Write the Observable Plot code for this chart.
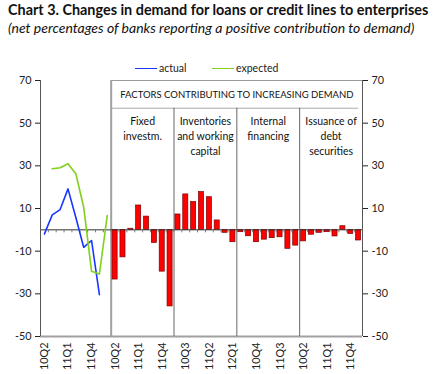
<!DOCTYPE html>
<html><head><meta charset="utf-8">
<script src="https://cdn.jsdelivr.net/npm/d3@7"></script>
<script src="https://cdn.jsdelivr.net/npm/@observablehq/plot@0.6"></script>
<style>
body{margin:0;background:#fff;font-family:Lato,sans-serif;color:#111}
#head{height:44px;position:relative;width:446px}
#t1{position:absolute;left:8px;top:1px;font-weight:bold;font-size:14.4px;white-space:nowrap}
#t2{position:absolute;left:8px;top:19px;font-style:italic;font-size:14px;white-space:nowrap}
#wrap{position:relative;width:446px;height:330px}
#legend{position:absolute;top:0;left:0;width:446px;height:40px;font-size:10.5px;color:#222}
.li{position:absolute;top:18px;display:flex;align-items:center;white-space:nowrap;line-height:13px}
.sw{display:inline-block;width:22px;height:0;border-top:1.6px solid;margin-right:2px}
</style></head><body>
<div id="head"><div id="t1"></div><div id="t2"></div></div>
<div id="wrap"><div id="legend"></div></div>
<script>
// ---- data ----
const titleText = "Chart 3. Changes in demand for loans or credit lines to enterprises";
const subtitleText = "(net percentages of banks reporting a positive contribution to demand)";
const seriesNames = ["actual", "expected"];
const seriesColors = ["#1836ff", "#7fd11b"];
const lineQuarters = ["10Q2","10Q3","10Q4","11Q1","11Q2","11Q3","11Q4","12Q1","12Q2"];
const barQuarters = ["10Q2","10Q3","10Q4","11Q1","11Q2","11Q3","11Q4","12Q1"];
const actual = [-1.9, 7.0, 9.5, 19.2, 5.8, -8.2, -5.0, -30.4];            // 10Q2..12Q1
const expected = [null, 28.6, 29.1, 31.0, 26.3, 10.6, -19.4, -20.7, 6.7]; // 10Q2..12Q2
const headerTitle = "FACTORS CONTRIBUTING TO INCREASING DEMAND";
const factorLabels = [["Fixed","investm."],["Inventories","and working","capital"],["Internal","financing"],["Issuance of","debt","securities"]];
const fixedInvestment   = [-23.3, -12.9, 0.5, 11.4, 6.2, -6.1, -19.6, -35.9];
const inventories       = [7.2, 16.6, 13.0, 17.7, 15.3, 4.4, -1.4, -5.8];
const internalFinancing = [-1.1, -3.0, -5.8, -4.6, -3.9, -3.5, -8.9, -7.4];
const debtIssuance      = [-5.4, -2.3, -1.4, -1.1, -3.1, 1.7, -1.9, -5.0];
const yTicks = [70, 50, 30, 10, -10, -30, -50];

// ---- build tables ----
const factorValues = [fixedInvestment, inventories, internalFinancing, debtIssuance];
const lineSlots = lineQuarters.length;
const nSlots = lineSlots + barQuarters.length * factorValues.length;
const cats = lineQuarters.map((q, k) => ({slot: k, label: q}));
const panels = factorLabels.map((lab, p) => ({start: lineSlots + p * barQuarters.length, label: lab}));
const barRows = [];
factorValues.forEach((vals, p) => {
  vals.forEach((v, k) => {
    const slot = panels[p].start + k;
    cats.push({slot, label: barQuarters[k]});
    barRows.push({slot, v});
  });
});
const actualRows = actual.map((v, k) => ({slot: k, v}));
const expectedRows = expected.map((v, k) => ({slot: k, v})).filter(d => d.v != null);
const tickCats = cats.filter(d => d.slot % 3 === 0);
const tickLabel = new Map(tickCats.map(d => [d.slot + 0.5, d.label]));

document.getElementById("t1").textContent = titleText;
document.getElementById("t2").textContent = subtitleText;
const lg = document.getElementById("legend");
const legendLeft = [135, 212];
seriesNames.forEach((n, i) => {
  const el = document.createElement("div");
  el.className = "li";
  el.style.left = legendLeft[i] + "px";
  el.innerHTML = `<span class="sw" style="border-color:${seriesColors[i]}"></span>${n}`;
  lg.appendChild(el);
});

const plot = Plot.plot({
  width: 446, height: 330,
  marginTop: 36, marginBottom: 38, marginLeft: 40, marginRight: 84,
  style: {fontFamily: "Lato, sans-serif", fontSize: "10.8px", color: "#222", background: "transparent"},
  x: {domain: [0, nSlots], ticks: tickCats.map(d => d.slot + 0.5), tickFormat: d => tickLabel.get(d),
      tickRotate: -90, tickSize: 0, tickPadding: 6, label: null},
  y: {domain: [-50, 70], axis: "both", ticks: yTicks, tickFormat: d => String(d), tickSize: 5, tickPadding: 4, label: null},
  marks: [
    Plot.ruleY([-50], {stroke: "#a0a0a0", strokeWidth: 2}),
    Plot.ruleY([70], {x1: lineSlots, x2: nSlots, stroke: "#9a9a9a"}),
    Plot.ruleY([57], {x1: lineSlots, x2: nSlots - 0.5, stroke: "#aaaaaa"}),
    Plot.ruleX([lineSlots], {y1: -50, y2: 70, stroke: "#a0a0a0", strokeWidth: 2}),
    Plot.ruleX(panels.slice(1).map(d => d.start), {y1: -50, y2: 57, stroke: "#666"}),
    Plot.rectY(barRows, {x1: "slot", x2: d => d.slot + 1, y1: 0, y2: "v", insetLeft: 1.4, insetRight: 1.4,
      fill: "#ff0000", stroke: "#7a0000", strokeWidth: 0.7}),
    Plot.ruleY([0], {stroke: "#333"}),
    Plot.ruleX(d3.range(1, nSlots), {y1: 0, y2: 0, insetTop: -1.5, insetBottom: -1.5, dy: 1.5, stroke: "#777"}),
    Plot.ruleX([0, nSlots], {y1: -50, y2: 70, stroke: "#555"}),
    Plot.lineY(actualRows, {x: d => d.slot + 0.5, y: "v", stroke: seriesColors[0], strokeWidth: 1.6}),
    Plot.lineY(expectedRows, {x: d => d.slot + 0.5, y: "v", stroke: seriesColors[1], strokeWidth: 1.6}),
    Plot.text([headerTitle], {x: (lineSlots + nSlots) / 2, y: 70, text: d => d, dy: 14, fontSize: 9.5, fill: "#111"}),
    Plot.text(panels, {x: d => d.start + barQuarters.length / 2, y: 57, text: d => d.label.join("\n"),
      lineAnchor: "top", dy: 6, lineHeight: 1.42, fontSize: 10.5, fill: "#111"})
  ]
});
document.getElementById("wrap").appendChild(plot);
</script>
</body></html>
